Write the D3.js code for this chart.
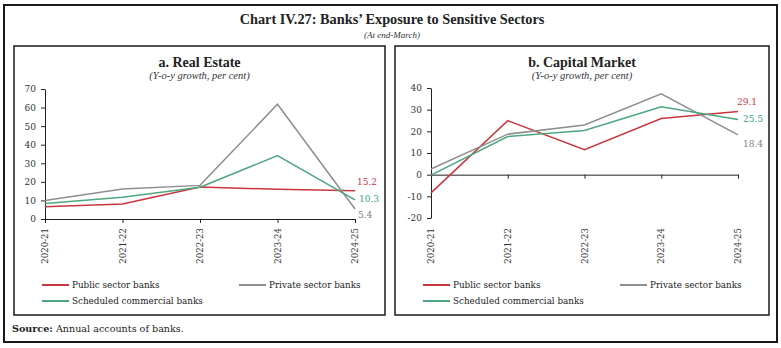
<!DOCTYPE html>
<html><head><meta charset="utf-8">
<script src="https://cdn.jsdelivr.net/npm/d3@7"></script>
<style>
html,body{margin:0;padding:0;background:#fff;}
svg{display:block;}
</style></head>
<body>
<script>
// ---- Data ----
const years = ["2020-21","2021-22","2022-23","2023-24","2024-25"];
const seriesNames = ["Public sector banks","Private sector banks","Scheduled commercial banks"];
const realPublic  = [6.6, 8.1, 17.2, 16.0, 15.2];
const realPrivate = [9.9, 16.2, 18.1, 61.8, 5.4];
const realSCB     = [8.4, 11.7, 17.1, 34.1, 10.3];
const capPublic   = [-8.4, 24.9, 11.5, 25.9, 29.1];
const capPrivate  = [2.6, 18.7, 22.9, 37.3, 18.4];
const capSCB      = [-0.2, 17.6, 20.4, 31.3, 25.5];
const realTicks = [0,10,20,30,40,50,60,70];
const capTicks  = [-20,-10,0,10,20,30,40];

// ---- Styles ----
const colors = ["#c8363f","#8e8e8e","#4ea67f"];
const labelColors = ["#c8363f","#7f7f7f","#3f9f88"];
const W = 781, H = 348;
const svg = d3.select("body").append("svg").attr("width",W).attr("height",H);
const serif = "'DejaVu Serif', serif";
const tserif = "'Liberation Serif', serif";

svg.append("rect").attr("x",4).attr("y",5).attr("width",773).attr("height",337)
  .attr("fill","none").attr("stroke","#1a1a1a").attr("stroke-width",2);

svg.append("text").attr("x",392).attr("y",24).attr("text-anchor","middle")
  .attr("font-family",tserif).attr("font-weight","bold").attr("font-size",14.3)
  .attr("fill","#222").text("Chart IV.27: Banks\u2019 Exposure to Sensitive Sectors");
svg.append("text").attr("x",392).attr("y",38).attr("text-anchor","middle")
  .attr("font-family",tserif).attr("font-style","italic").attr("font-size",9)
  .attr("fill","#333").text("(At end-March)");

const src = svg.append("text").attr("x",12).attr("y",332)
  .attr("font-family",serif).attr("font-size",9.6).attr("fill","#222");
src.append("tspan").attr("font-weight","bold").text("Source:");
src.append("tspan").text(" Annual accounts of banks.");

function panel(cfg){
  const g = svg.append("g");
  g.append("rect").attr("x",cfg.box[0]).attr("y",cfg.box[1])
    .attr("width",cfg.box[2]-cfg.box[0]).attr("height",cfg.box[3]-cfg.box[1])
    .attr("fill","none").attr("stroke","#1a1a1a").attr("stroke-width",1.5);
  const cx = (cfg.box[0]+cfg.box[2])/2;
  g.append("text").attr("x",cx).attr("y",67).attr("text-anchor","middle")
    .attr("font-family",tserif).attr("font-weight","bold").attr("font-size",14)
    .attr("fill","#222").text(cfg.title);
  g.append("text").attr("x",cx).attr("y",78.5).attr("text-anchor","middle")
    .attr("font-family",tserif).attr("font-style","italic").attr("font-size",10.5)
    .attr("fill","#333").text("(Y-o-y growth, per cent)");

  const x = d3.scalePoint().domain(years).range(cfg.xr).padding(0);
  const y = d3.scaleLinear().domain(cfg.yd).range(cfg.yr);

  // y axis
  const ya = g.append("g").attr("transform",`translate(${cfg.xr[0]},0)`)
    .call(d3.axisLeft(y).tickValues(cfg.ticks).tickFormat(d=>String(d))
      .tickSize(4).tickSizeOuter(0).tickPadding(5));
  ya.select(".domain").attr("stroke","#222").attr("stroke-width",1);
  ya.selectAll(".tick line").attr("stroke","#222");
  ya.selectAll("text").attr("font-family",serif).attr("font-size",9).attr("fill","#333");

  // x axis at y=0
  const xa = g.append("g").attr("transform",`translate(0,${y(0)})`)
    .call(d3.axisBottom(x).tickSize(4).tickSizeOuter(0).tickFormat(""));
  xa.select(".domain").attr("stroke","#222").attr("stroke-width",1);
  xa.selectAll(".tick line").attr("stroke","#222");

  // x labels at bottom
  g.selectAll(".xl").data(years).enter().append("text")
    .attr("transform",d=>`translate(${x(d)+3},${cfg.labelY}) rotate(-90)`)
    .attr("text-anchor","end").attr("font-family",serif).attr("font-size",8.6)
    .attr("fill","#333").text(d=>d);

  const line = d3.line().x((d,i)=>x(years[i])).y(d=>y(d));
  cfg.series.forEach((s,k)=>{
    g.append("path").datum(s).attr("d",line).attr("fill","none")
      .attr("stroke",colors[k]).attr("stroke-width",1.5);
  });
  cfg.series.forEach((s,k)=>{
    const v = s[s.length-1];
    g.append("text").attr("x",x(years[years.length-1])+cfg.lab[k][0])
      .attr("y",y(v)+cfg.lab[k][1]).attr("font-family",serif).attr("font-size",9)
      .attr("fill",labelColors[k]).text(d3.format(".1f")(v));
  });

  // legend
  const lx = cfg.box[0]+28, lx2 = cfg.box[0]+225;
  const items = [[lx,285],[lx2,285],[lx,301]];
  items.forEach((p,k)=>{
    g.append("line").attr("x1",p[0]).attr("x2",p[0]+27).attr("y1",p[1]).attr("y2",p[1])
      .attr("stroke",colors[k]).attr("stroke-width",2);
    g.append("text").attr("x",p[0]+30).attr("y",p[1]+3).attr("font-family",serif)
      .attr("font-size",8.8).attr("fill","#222").text(seriesNames[k]);
  });
}

panel({box:[14,46,385,315], title:"a. Real Estate", xr:[45,355], yd:[0,70], yr:[219,89],
  ticks:realTicks, labelY:228, series:[realPublic,realPrivate,realSCB],
  lab:[[2,-6],[3,9],[4,2]]});
panel({box:[395,46,769,315], title:"b. Capital Market", xr:[431,738], yd:[-20,40], yr:[218,88],
  ticks:capTicks, labelY:228, series:[capPublic,capPrivate,capSCB],
  lab:[[-1,-7],[5,12],[5,3]]});
</script>
</body></html>
